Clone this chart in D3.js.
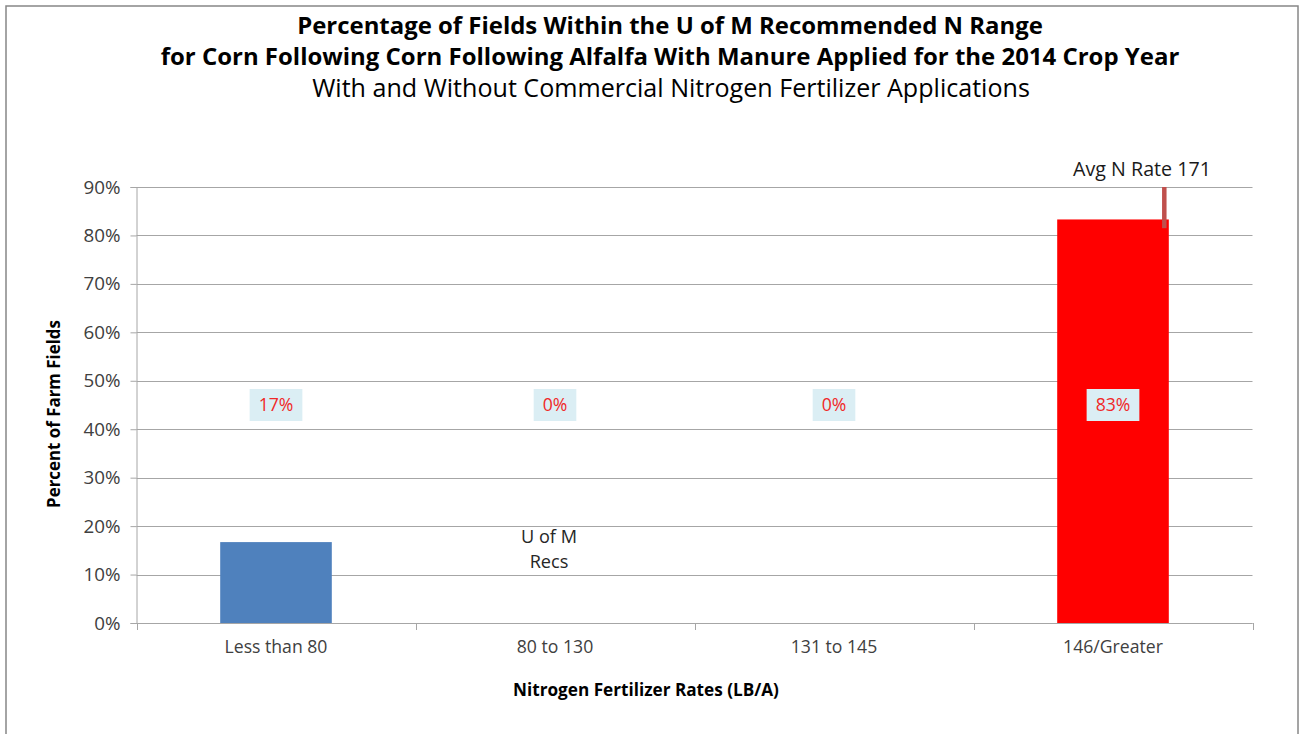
<!DOCTYPE html>
<html><head><meta charset="utf-8">
<script src="https://cdn.jsdelivr.net/npm/d3@7"></script>
<style>
html,body{margin:0;padding:0;background:#fff;}
svg{display:block;}
text{font-family:"Open Sans", "Noto Sans", "Liberation Sans", sans-serif;}
</style></head>
<body>
<script>
const categories = ["Less than 80", "80 to 130", "131 to 145", "146/Greater"];
const values = [16.7, 0, 0, 83.3];
const valueLabels = ["17%", "0%", "0%", "83%"];
const barColors = ["#4F81BD", "#4F81BD", "#4F81BD", "#FF0000"];
const yTicks = [0, 10, 20, 30, 40, 50, 60, 70, 80, 90];
const labelLevel = 45;
const avgLabel = "Avg N Rate 171";
const avgRange = [81.5, 90];
const recsLines = ["U of M", "Recs"];
const recsLevel = [17.8, 12.8];
const titleLines = ["Percentage of Fields Within the U of M Recommended N Range",
  "for Corn Following Corn Following Alfalfa With Manure Applied for the 2014 Crop Year"];
const subtitle = "With and Without Commercial Nitrogen Fertilizer Applications";
const xTitle = "Nitrogen Fertilizer Rates (LB/A)";
const yTitle = "Percent of Farm Fields";

const W = 1305, H = 734;
const svg = d3.select("body").append("svg").attr("width", W).attr("height", H);

// fit font size of a text so its width matches target
function fitSize(str, target, weight) {
  const t = svg.append("text").attr("font-size", 20).attr("font-weight", weight || "normal").text(str);
  const w = t.node().getComputedTextLength();
  t.remove();
  return 20 * target / w;
}

svg.append("rect").attr("x", 6).attr("y", 6).attr("width", 1292).attr("height", 740)
  .attr("fill", "#fff").attr("stroke", "#878787").attr("stroke-width", 1.5);

const L = 136.5, R = 1252.5, T = 187, B = 623;
const x = d3.scaleBand().domain(categories).range([L, R]).paddingInner(0).paddingOuter(0);
const y = d3.scaleLinear().domain([0, 90]).range([B, T]);

const tickSize = fitSize("Less than 80", 103);
const yTickSize = fitSize("90%", 37);

// grid
svg.append("g").selectAll("line").data(yTicks).join("line")
  .attr("x1", L).attr("x2", R)
  .attr("y1", d => Math.round(y(d)) + 0.5).attr("y2", d => Math.round(y(d)) + 0.5)
  .attr("stroke", "#a6a6a6").attr("stroke-width", 1);

// y axis
const yAxis = svg.append("g").attr("transform", `translate(${L},0)`)
  .call(d3.axisLeft(y).tickValues(yTicks).tickFormat(d => d + "%").tickSize(6).tickPadding(10));
yAxis.select(".domain").attr("stroke", "#a6a6a6");
yAxis.selectAll(".tick line").attr("stroke", "#a6a6a6");
yAxis.selectAll(".tick text").attr("font-size", yTickSize).attr("fill", "#404040")
  .attr("font-family", "'Open Sans', sans-serif");

// bars
const bw = x.bandwidth() * 0.4;
svg.append("g").selectAll("rect").data(values).join("rect")
  .attr("x", (d, i) => x(categories[i]) + x.bandwidth() / 2 - bw / 2)
  .attr("width", bw)
  .attr("y", d => y(d)).attr("height", d => B - y(d))
  .attr("fill", (d, i) => barColors[i]);

// x axis
const xAxis = svg.append("g").attr("transform", `translate(0,${B})`)
  .call(d3.axisBottom(x).tickSize(0).tickPadding(17));
xAxis.select(".domain").attr("stroke", "#a6a6a6").attr("d", `M${L},0.5H${R}`);
xAxis.selectAll(".tick text").attr("font-size", tickSize).attr("fill", "#404040")
  .attr("font-family", "'Open Sans', sans-serif");
const bounds = categories.map(c => x(c)).concat([R]);
svg.append("g").selectAll("line").data(bounds).join("line")
  .attr("x1", d => Math.round(d) + 0.5).attr("x2", d => Math.round(d) + 0.5)
  .attr("y1", B).attr("y2", B + 7).attr("stroke", "#a6a6a6");

// value labels
const lg = svg.append("g").selectAll("g").data(valueLabels).join("g")
  .attr("transform", (d, i) => `translate(${x(categories[i]) + x.bandwidth() / 2},${y(labelLevel)})`);
lg.each(function (d) {
  const g = d3.select(this);
  const t = g.append("text").text(d).attr("text-anchor", "middle").attr("dy", "0.36em")
    .attr("font-size", tickSize).attr("fill", "#F02828");
  const bb = t.node().getBBox();
  g.insert("rect", "text").attr("x", bb.x - 9).attr("y", -16).attr("width", bb.width + 18).attr("height", 32)
    .attr("fill", "#DBEEF4");
});

// avg marker
const cx4 = x(categories[3]) + x.bandwidth() / 2 + bw / 2 - 4.5;
svg.append("line").attr("x1", cx4).attr("x2", cx4).attr("y1", y(avgRange[1])).attr("y2", y(avgRange[0]))
  .attr("stroke", "#C0504D").attr("stroke-width", 4.5);
svg.append("text").attr("x", 1142).attr("y", 176).attr("text-anchor", "middle")
  .attr("font-size", fitSize(avgLabel, 138)).attr("fill", "#1a1a1a").text(avgLabel);

// U of M Recs
const recsSize = fitSize(recsLines[0], 56);
svg.append("g").selectAll("text").data(recsLines).join("text")
  .attr("x", 549)
  .attr("y", (d, i) => y(recsLevel[i])).attr("dy", "0.36em")
  .attr("text-anchor", "middle").attr("font-size", recsSize).attr("fill", "#262626").text(d => d);

// titles
const titleTargets = [746, 1019];
const titleBase = [34, 65];
svg.append("g").selectAll("text").data(titleLines).join("text")
  .attr("x", 670).attr("y", (d, i) => titleBase[i])
  .attr("text-anchor", "middle").attr("font-weight", "bold").attr("fill", "#000")
  .attr("font-size", (d, i) => fitSize(d, titleTargets[i], "bold"))
  .text(d => d);
svg.append("text").attr("x", 671).attr("y", 97).attr("text-anchor", "middle")
  .attr("font-size", fitSize(subtitle, 718)).attr("fill", "#000").text(subtitle);

svg.append("text").attr("x", 646).attr("y", 696).attr("text-anchor", "middle")
  .attr("font-size", fitSize(xTitle, 266, "bold")).attr("font-weight", "bold").attr("fill", "#000").text(xTitle);
svg.append("text").attr("transform", `translate(60,414) rotate(-90)`).attr("text-anchor", "middle")
  .attr("font-size", fitSize(yTitle, 188, "bold")).attr("font-weight", "bold").attr("fill", "#000").text(yTitle);
</script>
</body></html>
